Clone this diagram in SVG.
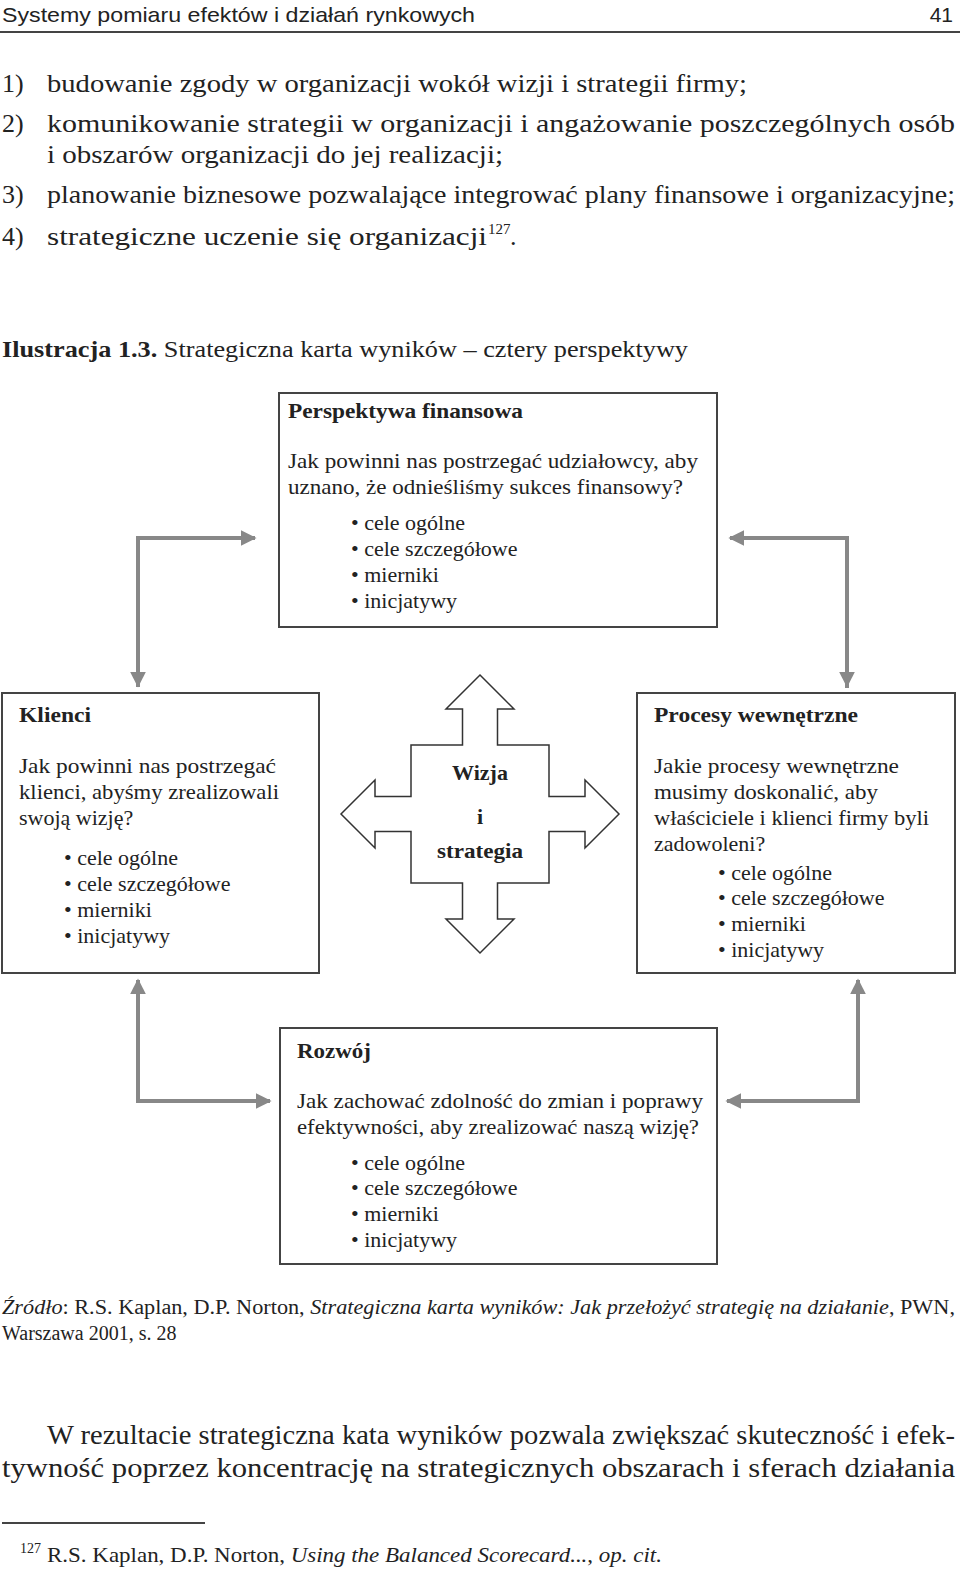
<svg xmlns="http://www.w3.org/2000/svg" width="960" height="1571" viewBox="0 0 960 1571">
<style>
.hdr{font-family:"Liberation Sans",Arial,sans-serif;font-size:21px;fill:#222}
.body{font-family:"Liberation Serif","Times New Roman",serif;font-size:26px;fill:#222}
.sup{font-family:"Liberation Serif","Times New Roman",serif;font-size:15px;fill:#222}
.cap{font-family:"Liberation Serif","Times New Roman",serif;font-size:24px;fill:#222}
.src{font-family:"Liberation Serif","Times New Roman",serif;font-size:20px;fill:#222}
.par{font-family:"Liberation Serif","Times New Roman",serif;font-size:28px;fill:#222}
.fn{font-family:"Liberation Serif","Times New Roman",serif;font-size:22px;fill:#222}
.t{font-family:"Liberation Serif","Times New Roman",serif;font-size:22px;fill:#222}
.tb{font-family:"Liberation Serif","Times New Roman",serif;font-size:22px;font-weight:bold;fill:#222}
.box{fill:#fff;stroke:#444;stroke-width:2}
.conn{fill:none;stroke:#888;stroke-width:4}
.cross{fill:#fff;stroke:#333;stroke-width:1.5}
</style>
<defs>
<marker id="ah" viewBox="0 0 10 10" refX="9" refY="5" markerWidth="4" markerHeight="4" orient="auto" markerUnits="strokeWidth">
<path d="M0,0 L10,5 L0,10 z" fill="#888"/>
</marker>
</defs>
<rect width="960" height="1571" fill="#fff"/>

<g id="page-header">
<text class="hdr" x="2" y="22" textLength="473" lengthAdjust="spacingAndGlyphs">Systemy pomiaru efektów i działań rynkowych</text>
<text class="hdr" x="953" y="22" text-anchor="end">41</text>
<line x1="0" y1="32" x2="960" y2="32" stroke="#444" stroke-width="2"/>
</g>

<g id="intro-list">
<text class="body" x="2" y="92">1)</text>
<text class="body" x="47" y="92" textLength="700" lengthAdjust="spacingAndGlyphs">budowanie zgody w organizacji wokół wizji i strategii firmy;</text>
<text class="body" x="2" y="132">2)</text>
<text class="body" x="47" y="132" textLength="908" lengthAdjust="spacingAndGlyphs">komunikowanie strategii w organizacji i angażowanie poszczególnych osób</text>
<text class="body" x="47" y="163" textLength="456" lengthAdjust="spacingAndGlyphs">i obszarów organizacji do jej realizacji;</text>
<text class="body" x="2" y="203">3)</text>
<text class="body" x="47" y="203" textLength="908" lengthAdjust="spacingAndGlyphs">planowanie biznesowe pozwalające integrować plany finansowe i organizacyjne;</text>
<text class="body" x="2" y="245">4)</text>
<text class="body" x="47" y="245" textLength="440" lengthAdjust="spacingAndGlyphs">strategiczne uczenie się organizacji</text>
<text class="sup" x="488" y="234">127</text>
<text class="body" x="510" y="245">.</text>
</g>

<g id="caption">
<text class="cap" x="2" y="357" textLength="686" lengthAdjust="spacingAndGlyphs"><tspan font-weight="bold">Ilustracja 1.3.</tspan> Strategiczna karta wyników – cztery perspektywy</text>
</g>

<g id="connectors">
<polyline class="conn" points="138,687 138,538 255,538" marker-end="url(#ah)"/>
<line class="conn" x1="138" y1="538" x2="138" y2="686" marker-end="url(#ah)"/>
<polyline class="conn" points="847,688 847,538 730,538" marker-end="url(#ah)"/>
<line class="conn" x1="847" y1="538" x2="847" y2="686" marker-end="url(#ah)"/>
<polyline class="conn" points="270,1101 138,1101 138,980" marker-end="url(#ah)"/>
<line class="conn" x1="138" y1="1101" x2="270" y2="1101" marker-end="url(#ah)"/>
<polyline class="conn" points="727,1101 858,1101 858,980" marker-end="url(#ah)"/>
<line class="conn" x1="858" y1="1101" x2="727" y2="1101" marker-end="url(#ah)"/>
</g>

<g id="node-finansowa">
<rect class="box" x="279" y="393" width="438" height="234"/>
<text class="tb" x="288" y="418" textLength="235" lengthAdjust="spacingAndGlyphs">Perspektywa finansowa</text>
<text class="t" x="288" y="468" textLength="410" lengthAdjust="spacingAndGlyphs">Jak powinni nas postrzegać udziałowcy, aby</text>
<text class="t" x="288" y="494" textLength="395" lengthAdjust="spacingAndGlyphs">uznano, że odnieśliśmy sukces finansowy?</text>
<text class="t" x="351" y="530">• cele ogólne</text>
<text class="t" x="351" y="556">• cele szczegółowe</text>
<text class="t" x="351" y="582">• mierniki</text>
<text class="t" x="351" y="608">• inicjatywy</text>
</g>

<g id="node-klienci">
<rect class="box" x="2" y="693" width="317" height="280"/>
<text class="tb" x="19" y="722" textLength="72" lengthAdjust="spacingAndGlyphs">Klienci</text>
<text class="t" x="19" y="773" textLength="257" lengthAdjust="spacingAndGlyphs">Jak powinni nas postrzegać</text>
<text class="t" x="19" y="799" textLength="260" lengthAdjust="spacingAndGlyphs">klienci, abyśmy zrealizowali</text>
<text class="t" x="19" y="825">swoją wizję?</text>
<text class="t" x="64" y="865">• cele ogólne</text>
<text class="t" x="64" y="891">• cele szczegółowe</text>
<text class="t" x="64" y="917">• mierniki</text>
<text class="t" x="64" y="943">• inicjatywy</text>
</g>

<g id="node-wizja">
<path class="cross" d="M480,675 L514,709 L497.5,709 L497.5,745 L549,745 L549,796.5 L585,796.5 L585,780 L619,814 L585,848 L585,831.5 L549,831.5 L549,883 L497.5,883 L497.5,919 L514,919 L480,953 L446,919 L462.5,919 L462.5,883 L411,883 L411,831.5 L375,831.5 L375,848 L341,814 L375,780 L375,796.5 L411,796.5 L411,745 L462.5,745 L462.5,709 L446,709 Z"/>
<text class="tb" x="480" y="780" text-anchor="middle">Wizja</text>
<text class="tb" x="480" y="824" text-anchor="middle">i</text>
<text class="tb" x="480" y="858" text-anchor="middle" textLength="86" lengthAdjust="spacingAndGlyphs">strategia</text>
</g>

<g id="node-procesy">
<rect class="box" x="637" y="693" width="318" height="280"/>
<text class="tb" x="654" y="722" textLength="204" lengthAdjust="spacingAndGlyphs">Procesy wewnętrzne</text>
<text class="t" x="654" y="773" textLength="245" lengthAdjust="spacingAndGlyphs">Jakie procesy wewnętrzne</text>
<text class="t" x="654" y="799" textLength="224" lengthAdjust="spacingAndGlyphs">musimy doskonalić, aby</text>
<text class="t" x="654" y="825" textLength="275" lengthAdjust="spacingAndGlyphs">właściciele i klienci firmy byli</text>
<text class="t" x="654" y="851">zadowoleni?</text>
<text class="t" x="718" y="880">• cele ogólne</text>
<text class="t" x="718" y="905">• cele szczegółowe</text>
<text class="t" x="718" y="931">• mierniki</text>
<text class="t" x="718" y="957">• inicjatywy</text>
</g>

<g id="node-rozwoj">
<rect class="box" x="280" y="1028" width="437" height="236"/>
<text class="tb" x="297" y="1058" textLength="74" lengthAdjust="spacingAndGlyphs">Rozwój</text>
<text class="t" x="297" y="1108" textLength="406" lengthAdjust="spacingAndGlyphs">Jak zachować zdolność do zmian i poprawy</text>
<text class="t" x="297" y="1134" textLength="402" lengthAdjust="spacingAndGlyphs">efektywności, aby zrealizować naszą wizję?</text>
<text class="t" x="351" y="1170">• cele ogólne</text>
<text class="t" x="351" y="1195">• cele szczegółowe</text>
<text class="t" x="351" y="1221">• mierniki</text>
<text class="t" x="351" y="1247">• inicjatywy</text>
</g>

<g id="source">
<text class="src" x="2" y="1314" textLength="953" lengthAdjust="spacingAndGlyphs"><tspan font-style="italic">Źródło</tspan>: R.S. Kaplan, D.P. Norton, <tspan font-style="italic">Strategiczna karta wyników: Jak przełożyć strategię na działanie</tspan>, PWN,</text>
<text class="src" x="2" y="1340">Warszawa 2001, s. 28</text>
</g>

<g id="paragraph">
<text class="par" x="47" y="1444" textLength="908" lengthAdjust="spacingAndGlyphs">W rezultacie strategiczna kata wyników pozwala zwiększać skuteczność i efek-</text>
<text class="par" x="2" y="1477" textLength="953" lengthAdjust="spacingAndGlyphs">tywność poprzez koncentrację na strategicznych obszarach i sferach działania</text>
</g>

<g id="footnote">
<line x1="2" y1="1523" x2="205" y2="1523" stroke="#444" stroke-width="2"/>
<text class="sup" x="20" y="1553" style="font-size:14px">127</text>
<text class="fn" x="47" y="1562" textLength="615" lengthAdjust="spacingAndGlyphs">R.S. Kaplan, D.P. Norton, <tspan font-style="italic">Using the Balanced Scorecard...</tspan>, <tspan font-style="italic">op. cit.</tspan></text>
</g>
</svg>
